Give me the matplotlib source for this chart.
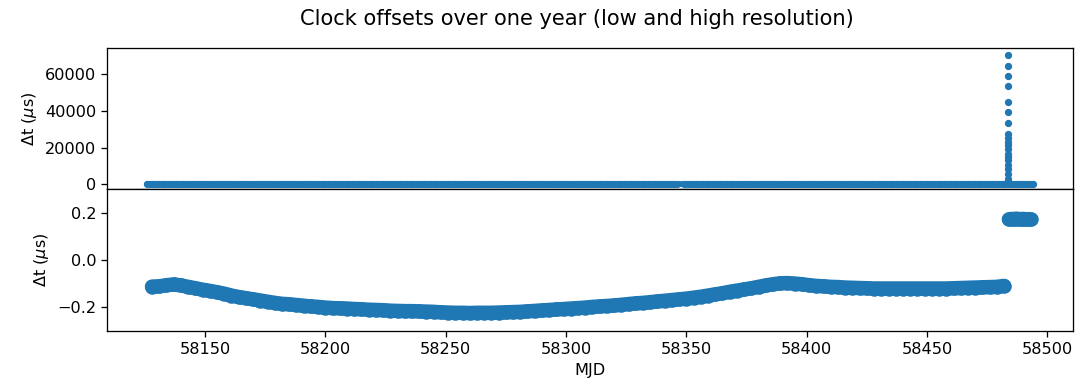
import numpy as np
import matplotlib
matplotlib.use('Agg')
import matplotlib.pyplot as plt

# low resolution offsets (us): flat at zero, short gap near 58347, spike near 58483.5
lowres_mjd = np.setdiff1d(np.arange(58126, 58495), [58347, 58348])
lowres_dt = np.zeros(len(lowres_mjd))

spike_mjd = [58483.5] * 19
spike_dt = [70360, 64550, 58900, 53270, 44730, 39090, 33270, 27090, 25270,
            23090, 21270, 19090, 16730, 14910, 13090, 10730, 8550, 5820, 3090]

# high resolution offsets (us), one value every 3 days
hires_mjd = np.arange(58128, 58483, 3)
hires_dt = [
    -0.113, -0.112, -0.107, -0.104, -0.108, -0.114, -0.120, -0.126, -0.131, -0.137,
    -0.143, -0.151, -0.157, -0.162, -0.167, -0.172, -0.177, -0.182, -0.186, -0.188,
    -0.191, -0.194, -0.197, -0.199, -0.202, -0.204, -0.205, -0.206, -0.208, -0.209,
    -0.211, -0.212, -0.213, -0.215, -0.216, -0.217, -0.217, -0.218, -0.219, -0.220,
    -0.222, -0.223, -0.224, -0.224, -0.225, -0.224, -0.224, -0.224, -0.223, -0.222,
    -0.221, -0.220, -0.218, -0.216, -0.214, -0.212, -0.210, -0.208, -0.206, -0.204,
    -0.202, -0.199, -0.197, -0.195, -0.193, -0.190, -0.187, -0.184, -0.182, -0.179,
    -0.176, -0.173, -0.170, -0.167, -0.164, -0.160, -0.156, -0.151, -0.146, -0.141,
    -0.135, -0.130, -0.125, -0.120, -0.114, -0.108, -0.103, -0.099, -0.098, -0.100,
    -0.103, -0.107, -0.110, -0.112, -0.114, -0.115, -0.117, -0.118, -0.119, -0.120,
    -0.121, -0.121, -0.121, -0.121, -0.121, -0.121, -0.121, -0.121, -0.121, -0.121,
    -0.121, -0.120, -0.119, -0.118, -0.117, -0.116, -0.115, -0.114, -0.110,
]

# after the step
step_mjd = np.arange(58484, 58494)
step_dt = [0.172, 0.174, 0.173, 0.175, 0.174, 0.173, 0.174, 0.172, 0.173, 0.172]

DPI = 116
fig, (ax_lo, ax_hi) = plt.subplots(2, 1, sharex=True, dpi=DPI,
                                   figsize=(1076 / DPI, 379 / DPI))
fig.subplots_adjust(left=0.0999, right=0.9969, bottom=0.1274, top=0.8741,
                    hspace=0)

# dense point clouds: thick line under the markers so the band reads as solid
ax_lo.plot(lowres_mjd, lowres_dt, '.-', color='C0', ms=7, lw=3.6,
           solid_capstyle='round')
ax_lo.plot(spike_mjd, spike_dt, '.', color='C0', ms=7)
ax_lo.set_ylim(-2700, 74300)
ax_lo.set_yticks([0, 20000, 40000, 60000])
ax_lo.set_ylabel(r'$\Delta$t ($\mu$s)')

ax_hi.plot(hires_mjd, hires_dt, '.-', ms=16, lw=9, color='C0',
           solid_capstyle='round')
ax_hi.plot(step_mjd, step_dt, '.-', ms=16, lw=9, color='C0',
           solid_capstyle='round')
ax_hi.set_ylim(-0.3, 0.3)
ax_hi.set_yticks([-0.2, 0.0, 0.2])
ax_hi.set_xlim(58109.5, 58510.5)
ax_hi.set_ylabel(r'$\Delta$t ($\mu$s)')
ax_hi.set_xlabel('MJD')

fig.suptitle('Clock offsets over one year (low and high resolution)',
             x=0.536, y=0.975, fontsize=13)

fig.savefig('out.png', dpi=DPI)
